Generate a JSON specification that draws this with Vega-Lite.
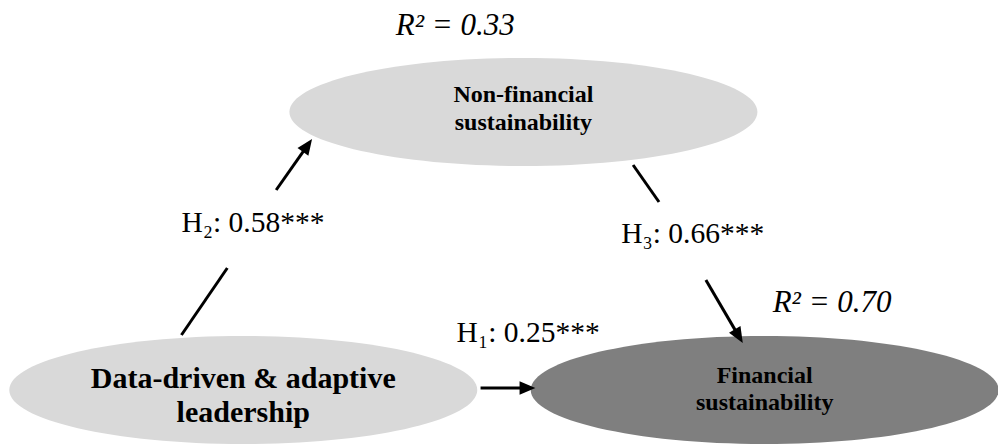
{
  "$schema": "https://vega.github.io/schema/vega-lite/v6.json",
  "width": 998,
  "height": 445,
  "padding": 0,
  "autosize": {"type": "fit", "contains": "padding"},
  "background": "white",
  "config": {"view": {"stroke": null}},
  "datasets": {
    "nodes": [
      {"node": "Non-financial\nsustainability", "kind": "mediator", "x": 525, "y": 112},
      {"node": "Data-driven & adaptive\nleadership", "kind": "predictor", "x": 244, "y": 390},
      {"node": "Financial\nsustainability", "kind": "outcome", "x": 767, "y": 390}
    ],
    "edges": [
      {"path": "H2", "x": 182, "y": 335, "x2": 228, "y2": 268, "head": false},
      {"path": "H2", "x": 277, "y": 190, "x2": 313, "y2": 139, "head": true},
      {"path": "H3", "x": 635, "y": 165, "x2": 661, "y2": 202, "head": false},
      {"path": "H3", "x": 708, "y": 280, "x2": 745, "y2": 343, "head": true},
      {"path": "H1", "x": 482, "y": 388, "x2": 537, "y2": 388, "head": true}
    ],
    "labels": [
      {"text": "H₂: 0.58***", "kind": "path", "x": 182, "y": 232},
      {"text": "H₃: 0.66***", "kind": "path", "x": 623, "y": 243},
      {"text": "H₁: 0.25***", "kind": "path", "x": 458, "y": 342},
      {"text": "R² = 0.33", "kind": "r2", "x": 397, "y": 35},
      {"text": "R² = 0.70", "kind": "r2", "x": 775, "y": 312}
    ]
  },
  "layer": [
    {
      "data": {"name": "nodes"},
      "mark": {
        "type": "point",
        "filled": true,
        "opacity": 1,
        "strokeWidth": 0,
        "size": 219024,
        "shape": "M-1,0C-1,-0.1275,-0.5523,-0.2308,0,-0.2308C0.5523,-0.2308,1,-0.1275,1,0C1,0.1275,0.5523,0.2308,0,0.2308C-0.5523,0.2308,-1,0.1275,-1,0Z"
      },
      "encoding": {
        "x": {"field": "x", "type": "quantitative", "axis": null, "scale": {"domain": [0, 998], "nice": false, "zero": false}},
        "y": {"field": "y", "type": "quantitative", "axis": null, "scale": {"domain": [0, 445], "nice": false, "zero": false, "reverse": true}},
        "color": {"field": "kind", "type": "nominal", "legend": null, "scale": {"domain": ["predictor", "mediator", "outcome"], "range": ["#d9d9d9", "#d9d9d9", "#7f7f7f"]}}
      }
    },
    {
      "data": {"name": "edges"},
      "transform": [
        {"calculate": "sqrt(pow(datum.x2 - datum.x, 2) + pow(datum.y2 - datum.y, 2))", "as": "len"},
        {"calculate": "datum.head ? datum.x2 - 10 * (datum.x2 - datum.x) / datum.len : datum.x2", "as": "xe"},
        {"calculate": "datum.head ? datum.y2 - 10 * (datum.y2 - datum.y) / datum.len : datum.y2", "as": "ye"}
      ],
      "mark": {"type": "rule", "color": "black", "strokeWidth": 3},
      "encoding": {
        "x": {"field": "x", "type": "quantitative"},
        "y": {"field": "y", "type": "quantitative"},
        "x2": {"field": "xe"},
        "y2": {"field": "ye"}
      }
    },
    {
      "data": {"name": "edges"},
      "transform": [
        {"filter": "datum.head"},
        {"calculate": "atan2(datum.x2 - datum.x, -(datum.y2 - datum.y)) * 180 / PI", "as": "angle"}
      ],
      "mark": {
        "type": "point",
        "filled": true,
        "opacity": 1,
        "color": "black",
        "strokeWidth": 0,
        "size": 1000,
        "shape": "M0,0L0.42,1L-0.42,1Z"
      },
      "encoding": {
        "x": {"field": "x2", "type": "quantitative"},
        "y": {"field": "y2", "type": "quantitative"},
        "angle": {"field": "angle", "type": "quantitative", "scale": null}
      }
    },
    {
      "data": {"name": "nodes"},
      "transform": [{"filter": "datum.kind == 'mediator'"}],
      "mark": {"type": "text", "font": "Liberation Serif", "fontWeight": "bold", "fontSize": 24, "lineHeight": 28, "lineBreak": "\n", "align": "center", "baseline": "alphabetic", "color": "black", "dy": -10},
      "encoding": {
        "x": {"field": "x", "type": "quantitative"},
        "y": {"field": "y", "type": "quantitative"},
        "text": {"field": "node"}
      }
    },
    {
      "data": {"name": "nodes"},
      "transform": [{"filter": "datum.kind == 'outcome'"}],
      "mark": {"type": "text", "font": "Liberation Serif", "fontWeight": "bold", "fontSize": 24, "lineHeight": 27, "lineBreak": "\n", "align": "center", "baseline": "alphabetic", "color": "black", "dy": -7},
      "encoding": {
        "x": {"field": "x", "type": "quantitative"},
        "y": {"field": "y", "type": "quantitative"},
        "text": {"field": "node"}
      }
    },
    {
      "data": {"name": "nodes"},
      "transform": [{"filter": "datum.kind == 'predictor'"}],
      "mark": {"type": "text", "font": "Liberation Serif", "fontWeight": "bold", "fontSize": 30, "lineHeight": 34, "lineBreak": "\n", "align": "center", "baseline": "alphabetic", "color": "black", "dy": -2},
      "encoding": {
        "x": {"field": "x", "type": "quantitative"},
        "y": {"field": "y", "type": "quantitative"},
        "text": {"field": "node"}
      }
    },
    {
      "data": {"name": "labels"},
      "transform": [{"filter": "datum.kind == 'path'"}],
      "mark": {"type": "text", "font": "Liberation Serif", "fontSize": 29.5, "align": "left", "baseline": "alphabetic", "color": "black"},
      "encoding": {
        "x": {"field": "x", "type": "quantitative"},
        "y": {"field": "y", "type": "quantitative"},
        "text": {"field": "text"}
      }
    },
    {
      "data": {"name": "labels"},
      "transform": [{"filter": "datum.kind == 'r2'"}],
      "mark": {"type": "text", "font": "Liberation Serif", "fontStyle": "italic", "fontSize": 31, "align": "left", "baseline": "alphabetic", "color": "black"},
      "encoding": {
        "x": {"field": "x", "type": "quantitative"},
        "y": {"field": "y", "type": "quantitative"},
        "text": {"field": "text"}
      }
    }
  ]
}
